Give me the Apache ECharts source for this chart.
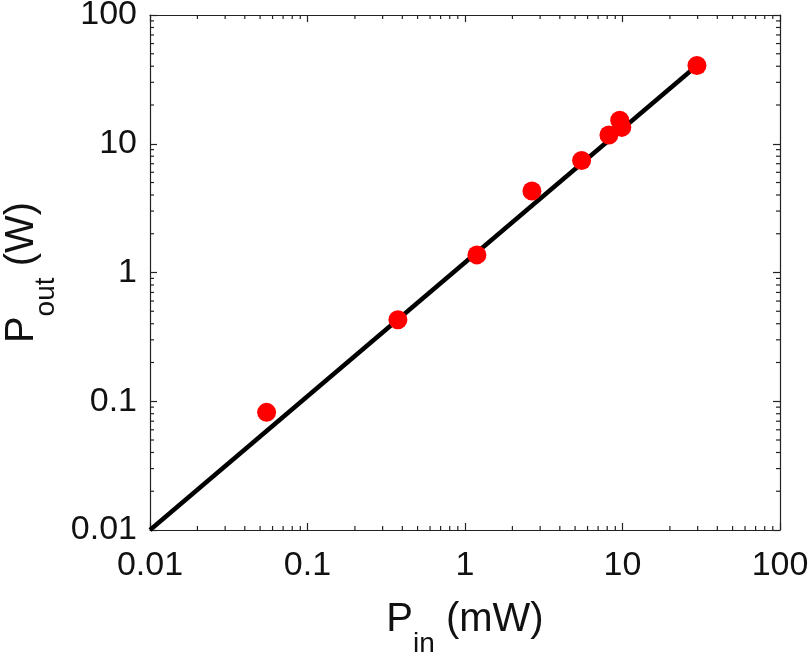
<!DOCTYPE html>
<html>
<head>
<meta charset="utf-8">
<script src="https://cdn.jsdelivr.net/npm/echarts@6/dist/echarts.min.js"></script>
<style>
html,body{margin:0;padding:0;background:#fff;}
#chart{width:810px;height:656px;}
</style>
</head>
<body>
<div id="chart"></div>
<script>
// Measured points: P_in (mW), P_out (W)
const pinValues = [0.055, 0.375, 1.19, 2.66, 5.5, 8.2, 9.6, 9.9, 29.7];
const poutValues = [0.082, 0.43, 1.37, 4.3, 7.4, 11.7, 15.2, 13.4, 40.5];
// Fit line endpoints
const fitX = [0.01, 29.7];
const fitY = [0.01, 40.5];
// Tick labels
const tickLabels = ['0.01', '0.1', '1', '10', '100'];
const axisMin = 0.01, axisMax = 100;
// minor tick values (2..9 within each decade)
const minorTicks = [];
[0.01, 0.1, 1, 10].forEach(function (d) {
  [2, 3, 4, 5, 6, 7, 8, 9].forEach(function (m) { minorTicks.push(+(d * m).toPrecision(3)); });
});

const FONT = '"Liberation Sans", Arial, Helvetica, sans-serif';
const chart = echarts.init(document.getElementById('chart'), null, { renderer: 'canvas' });

function lbl(v) {
  const i = Math.round(Math.log10(v)) + 2;
  return tickLabels[i] !== undefined ? tickLabels[i] : '';
}
const nameRich = {
  a: { fontSize: 40, fontFamily: FONT, color: '#111', lineHeight: 40, verticalAlign: 'top' },
  b: { fontSize: 28, fontFamily: FONT, color: '#111', lineHeight: 28, verticalAlign: 'top', padding: [30, 0, 0, 0] }
};

function baseAxis(extra) {
  return Object.assign({
    type: 'log', logBase: 10, min: axisMin, max: axisMax,
    axisLine: { show: true, onZero: false, lineStyle: { color: '#222', width: 1.2 } },
    axisTick: { show: true, inside: true, length: 7, lineStyle: { color: '#222', width: 1.2 } },
    splitLine: { show: false },
    axisLabel: { show: false }
  }, extra);
}

const scatterData = pinValues.map(function (x, i) { return [x, poutValues[i]]; });
const lineData = fitX.map(function (x, i) { return [x, fitY[i]]; });

const option = {
  animation: false,
  backgroundColor: '#fff',
  grid: { left: 150, right: 30, top: 15, bottom: 126, containLabel: false, outerBoundsMode: 'none' },
  xAxis: [
    baseAxis({
      position: 'bottom',
      name: '{a|P}{b|in}{a| (mW)}',
      nameLocation: 'middle', nameGap: 70,
      nameTextStyle: { rich: nameRich },
      axisLabel: { show: true, margin: 19, fontSize: 34, fontFamily: FONT, color: '#111', formatter: lbl }
    }),
    baseAxis({ position: 'top' })
  ],
  yAxis: [
    baseAxis({
      position: 'left',
      name: '{a|P}{b|out}{a| (W)}',
      nameLocation: 'middle', nameGap: 108,
      nameTextStyle: { rich: nameRich },
      axisLabel: { show: true, margin: 13, fontSize: 34, fontFamily: FONT, color: '#111', formatter: lbl }
    }),
    baseAxis({ position: 'right' })
  ],
  series: [
    {
      type: 'custom',
      coordinateSystem: 'cartesian2d',
      xAxisIndex: 0, yAxisIndex: 0,
      clip: false, silent: true, z: 1,
      data: minorTicks.map(function (v) { return [v]; }),
      renderItem: function (params, api) {
        const v = api.value(0);
        const bx = api.coord([v, axisMin]);
        const tx = api.coord([v, axisMax]);
        const ly = api.coord([axisMin, v]);
        const ry = api.coord([axisMax, v]);
        const L = 4;
        const st = { stroke: '#222', lineWidth: 1.2 };
        return {
          type: 'group',
          children: [
            { type: 'line', shape: { x1: bx[0], y1: bx[1], x2: bx[0], y2: bx[1] - L }, style: st },
            { type: 'line', shape: { x1: tx[0], y1: tx[1], x2: tx[0], y2: tx[1] + L }, style: st },
            { type: 'line', shape: { x1: ly[0], y1: ly[1], x2: ly[0] + L, y2: ly[1] }, style: st },
            { type: 'line', shape: { x1: ry[0], y1: ry[1], x2: ry[0] - L, y2: ry[1] }, style: st }
          ]
        };
      }
    },
    {
      type: 'line',
      data: lineData,
      showSymbol: false, symbol: 'none',
      lineStyle: { color: '#000', width: 4.5 },
      z: 2
    },
    {
      type: 'scatter',
      data: scatterData,
      symbol: 'circle', symbolSize: 19,
      itemStyle: { color: '#ff0000', opacity: 1 },
      z: 3
    }
  ]
};
chart.setOption(option);
</script>
</body>
</html>
